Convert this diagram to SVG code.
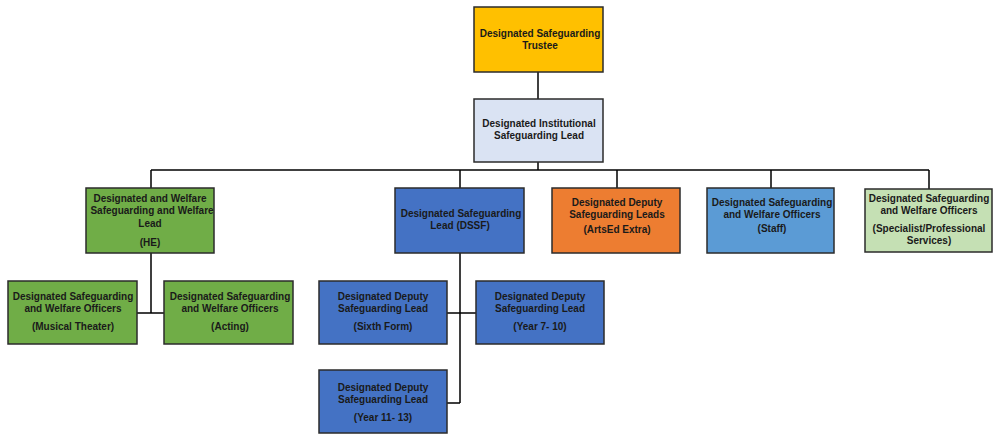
<svg xmlns="http://www.w3.org/2000/svg" width="995" height="435" viewBox="0 0 995 435">
<style>
.box{stroke:#2b2b2b;stroke-width:1.5}
.t{font-family:"Liberation Sans",Arial,sans-serif;font-weight:bold;font-size:10px;fill:#1a1a1a;text-anchor:middle}
.c{fill:none;stroke:#000;stroke-width:1.5}
</style>
<rect width="995" height="435" fill="#fff"/>
<g id="connectors">
<path class="c" d="M538 72V99"/>
<path class="c" d="M538 162V170"/>
<path class="c" d="M151 170H929"/>
<path class="c" d="M151 170V188M460 170V188M617 170V188M771 170V188M929 170V189"/>
<path class="c" d="M151 253V313M137 313H164"/>
<path class="c" d="M460 253V403M447 313H476M447 403H460"/>
</g>
<g id="trustee"><rect class="box" x="474" y="7" width="129" height="65" fill="#FFC000"/>
<text class="t" x="540" y="37">Designated Safeguarding</text><text class="t" x="540" y="49">Trustee</text></g>
<g id="institutional"><rect class="box" x="474" y="99" width="129" height="63" fill="#DAE3F3"/>
<text class="t" x="539" y="127">Designated Institutional</text><text class="t" x="539" y="139">Safeguarding Lead</text></g>
<g id="he"><rect class="box" x="86" y="188" width="128" height="65" fill="#70AD47"/>
<text class="t" x="150" y="202">Designated and Welfare</text><text class="t" x="152" y="214">Safeguarding and Welfare</text><text class="t" x="150" y="227">Lead</text><text class="t" x="150" y="246">(HE)</text></g>
<g id="dssf"><rect class="box" x="395" y="188" width="129" height="65" fill="#4472C4"/>
<text class="t" x="461" y="217">Designated Safeguarding</text><text class="t" x="460" y="229">Lead (DSSF)</text></g>
<g id="artsed"><rect class="box" x="552" y="188" width="128" height="65" fill="#ED7D31"/>
<text class="t" x="617" y="206">Designated Deputy</text><text class="t" x="617" y="218">Safeguarding Leads</text><text class="t" x="617" y="233">(ArtsEd Extra)</text></g>
<g id="staff"><rect class="box" x="707" y="188" width="127" height="65" fill="#5B9BD5"/>
<text class="t" x="772" y="206">Designated Safeguarding</text><text class="t" x="772" y="218">and Welfare Officers</text><text class="t" x="772" y="232">(Staff)</text></g>
<g id="specialist"><rect class="box" x="865" y="189" width="127" height="63" fill="#C5E0B4"/>
<text class="t" x="929" y="202">Designated Safeguarding</text><text class="t" x="929" y="214">and Welfare Officers</text><text class="t" x="929" y="232">(Specialist/Professional</text><text class="t" x="929" y="244">Services)</text></g>
<g id="musical"><rect class="box" x="8" y="281" width="129" height="63" fill="#70AD47"/>
<text class="t" x="73" y="300">Designated Safeguarding</text><text class="t" x="73" y="312">and Welfare Officers</text><text class="t" x="73" y="330">(Musical Theater)</text></g>
<g id="acting"><rect class="box" x="164" y="281" width="129" height="63" fill="#70AD47"/>
<text class="t" x="230" y="300">Designated Safeguarding</text><text class="t" x="230" y="312">and Welfare Officers</text><text class="t" x="230" y="330">(Acting)</text></g>
<g id="sixth"><rect class="box" x="319" y="281" width="128" height="63" fill="#4472C4"/>
<text class="t" x="383" y="300">Designated Deputy</text><text class="t" x="383" y="312">Safeguarding Lead</text><text class="t" x="383" y="330">(Sixth Form)</text></g>
<g id="year7"><rect class="box" x="476" y="281" width="128" height="63" fill="#4472C4"/>
<text class="t" x="540" y="300">Designated Deputy</text><text class="t" x="540" y="312">Safeguarding Lead</text><text class="t" x="540" y="330">(Year 7- 10)</text></g>
<g id="year11"><rect class="box" x="319" y="370" width="128" height="63" fill="#4472C4"/>
<text class="t" x="383" y="391">Designated Deputy</text><text class="t" x="383" y="403">Safeguarding Lead</text><text class="t" x="383" y="421">(Year 11- 13)</text></g>
</svg>
